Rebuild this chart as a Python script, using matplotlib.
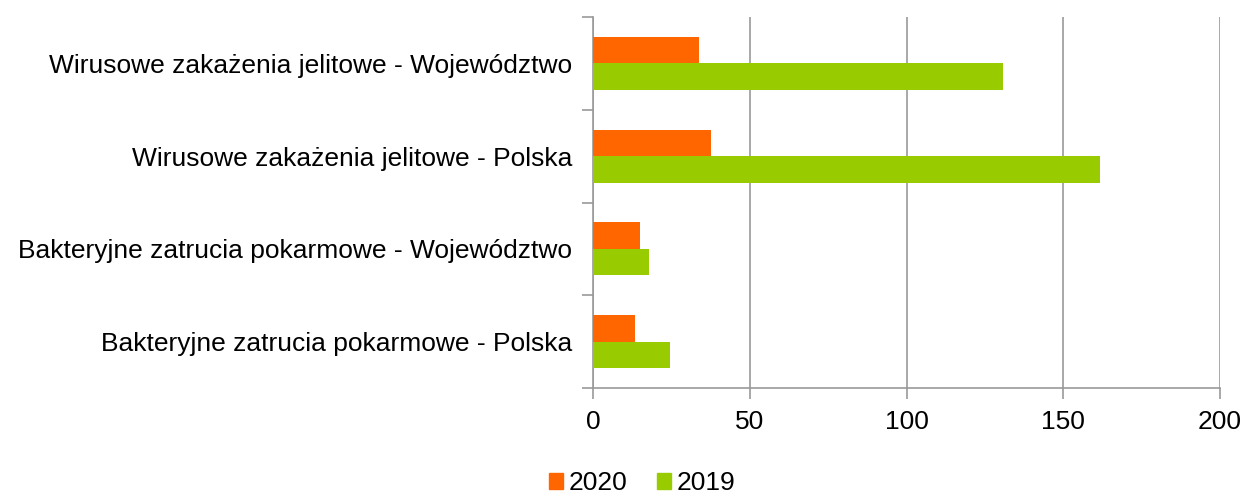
import matplotlib
matplotlib.use("Agg")
import numpy as np
import matplotlib.pyplot as plt
from matplotlib.patches import Patch

categories = [
    "Wirusowe zakażenia jelitowe - Województwo",
    "Wirusowe zakażenia jelitowe - Polska",
    "Bakteryjne zatrucia pokarmowe - Województwo",
    "Bakteryjne zatrucia pokarmowe - Polska",
]
values_2020 = [33.9, 37.5, 14.9, 13.5]
values_2019 = [130.8, 161.7, 18.0, 24.5]
x_ticks = [0, 50, 100, 150, 200]

plt.rcParams['font.family'] = ['Liberation Sans', 'DejaVu Sans']

fig = plt.figure(figsize=(12.45, 4.93), dpi=100)
ax = fig.add_axes([593 / 1245, 1 - 388 / 493, (1220 - 593) / 1245, (388 - 17) / 493])

y = np.arange(len(categories))
h = 0.285
ax.barh(y - h / 2, values_2020, height=h, color='#FF6600', label='2020', zorder=3)
ax.barh(y + h / 2, values_2019, height=h, color='#99CC00', label='2019', zorder=3)

ax.set_xlim(0, 200)
ax.set_ylim(len(categories) - 0.5, -0.5)
ax.set_xticks(x_ticks)
ax.set_xticklabels([str(t) for t in x_ticks], fontsize=19)

# category labels centred, ticks on the boundaries
ax.set_yticks(y)
ax.set_yticklabels(categories, fontsize=19)
ax.tick_params(axis='y', length=0, pad=15)
ax.set_yticks(np.arange(-0.5, len(categories)), minor=True)
ax.tick_params(axis='y', which='minor', length=8, color='#999999', width=1.2)
ax.tick_params(axis='x', length=8, color='#999999', width=1.2, pad=8)

ax.grid(axis='x', color='#999999', linewidth=1.2, zorder=0)
for side in ['top', 'right']:
    ax.spines[side].set_visible(False)
for side in ['left', 'bottom']:
    ax.spines[side].set_color('#999999')
    ax.spines[side].set_linewidth(1.2)

handles = [Patch(color='#FF6600', label='2020'), Patch(color='#99CC00', label='2019')]
fig.legend(handles=handles, loc='center', bbox_to_anchor=(642 / 1245, 1 - 483 / 493),
           ncol=2, frameon=False, fontsize=19, handlelength=0.55, handleheight=0.55,
           handletextpad=0.2, columnspacing=1.1)

fig.savefig("out.png", dpi=100)
